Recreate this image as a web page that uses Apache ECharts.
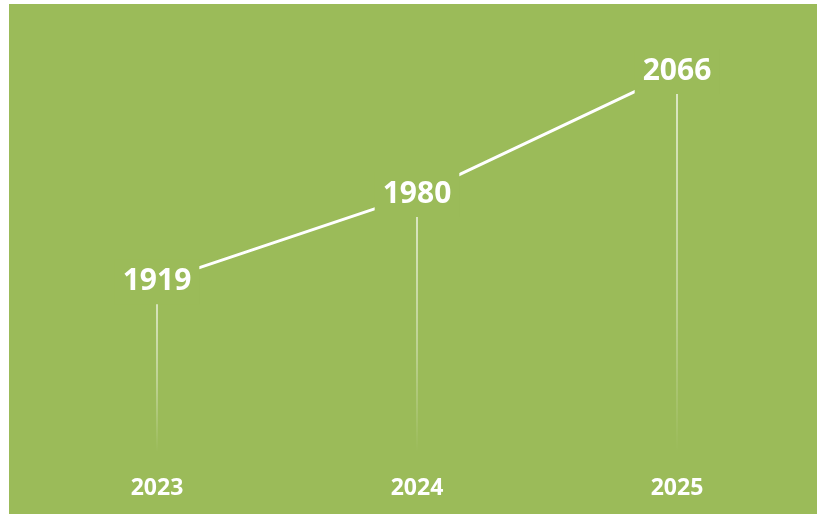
<!DOCTYPE html>
<html>
<head>
<meta charset="utf-8">
<script src="https://cdn.jsdelivr.net/npm/echarts@6/dist/echarts.min.js"></script>
<style>
html,body{margin:0;padding:0;background:#fff;}
#c{width:817px;height:514px;}
</style>
</head>
<body>
<div id="c"></div>
<script>
var years = ['2023', '2024', '2025'];
var values = [1919, 1980, 2066];
var yMin = 1800;
var yMax = 2100;

var green = '#9BBB59';
var chart = echarts.init(document.getElementById('c'));
chart.setOption({
  backgroundColor: '#ffffff',
  animation: false,
  graphic: [{
    type: 'rect',
    z: -10,
    shape: {x: 9, y: 4, width: 808, height: 510},
    style: {fill: green}
  }],
  grid: {left: 27, right: 10, top: 23, bottom: 62},
  xAxis: {
    type: 'category',
    data: years,
    boundaryGap: true,
    axisLine: {show: false},
    axisTick: {show: false},
    splitLine: {show: false},
    axisLabel: {
      color: '#ffffff',
      fontFamily: 'Noto Sans',
      fontWeight: 'bold',
      fontSize: 23,
      margin: 25
    }
  },
  yAxis: {
    type: 'value',
    min: yMin,
    max: yMax,
    show: false,
    splitLine: {show: false}
  },
  series: [
    {
      type: 'bar',
      data: values,
      barWidth: 1.5,
      z: 1,
      silent: true,
      itemStyle: {
        color: new echarts.graphic.LinearGradient(0, 0, 0, 1, [
          {offset: 0, color: 'rgba(255,255,255,0.9)'},
          {offset: 0.6, color: 'rgba(255,255,255,0.45)'},
          {offset: 1, color: 'rgba(255,255,255,0)'}
        ])
      }
    },
    {
      type: 'line',
      data: values,
      z: 3,
      symbol: 'circle',
      symbolSize: 2,
      itemStyle: {color: '#ffffff'},
      lineStyle: {color: '#ffffff', width: 3},
      label: {
        show: true,
        position: 'inside',
        color: '#ffffff',
        fontFamily: 'Noto Sans',
        fontWeight: 'bold',
        fontSize: 30,
        backgroundColor: green,
        padding: [10, 8, 5, 8]
      }
    }
  ]
});
</script>
</body>
</html>
